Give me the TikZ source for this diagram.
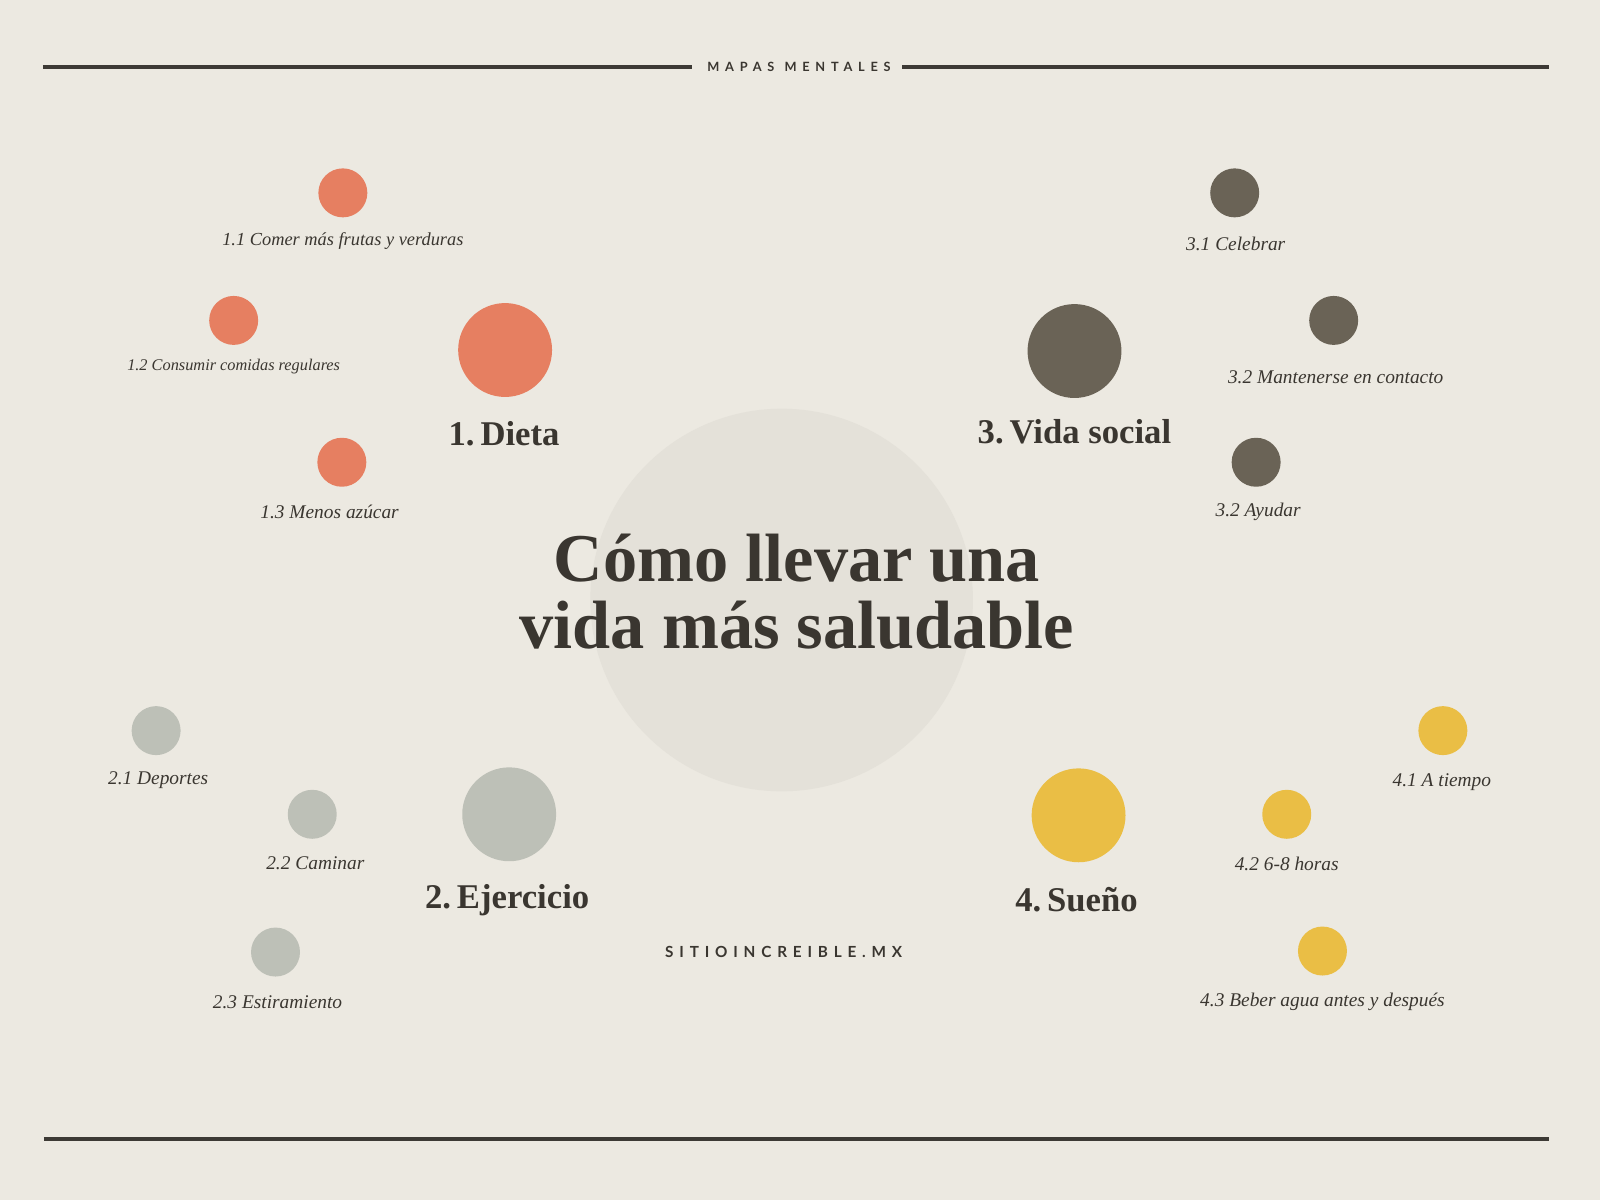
\documentclass[tikz,border=0pt]{standalone}
\usepackage{fontspec}
\setmainfont{Liberation Serif}
\newfontfamily\latofont{Lato}
\newcommand\headsp{\hspace{0.17em}}
\definecolor{bgc}{HTML}{ECE9E1}
\definecolor{hubc}{HTML}{E4E1D9}
\definecolor{inkc}{HTML}{3A3630}
\definecolor{linec}{HTML}{3D3A35}
\definecolor{orac}{HTML}{E67F61}
\definecolor{darc}{HTML}{6A6356}
\definecolor{grec}{HTML}{BDC0B7}
\definecolor{yelc}{HTML}{EABE45}
\begin{document}
\begin{tikzpicture}[x=1pt,y=-1pt,
  dot/.style={circle,inner sep=0pt,minimum size=48pt},
  bigdot/.style={circle,inner sep=0pt,minimum size=92pt},
  sub/.style={inner sep=0pt,text=inkc,font=\fontsize{19}{21}\selectfont\itshape},
  head/.style={inner sep=0pt,text=inkc,font=\fontsize{34}{36}\selectfont\bfseries},
  rule/.style={line width=4pt,draw=linec}]
\fill[bgc] (0,0) rectangle (1568,1176);
\useasboundingbox (0,0) rectangle (1568,1176);
% top and bottom rules
\coordinate (tl) at (42,66);
\coordinate (tr) at (1518,66);
\node[inner sep=0pt,text=inkc,font=\latofont\bfseries\fontsize{12.5}{15}\selectfont\addfontfeature{LetterSpace=45}] (top) at (783,66) {\mbox{MAPAS}\hspace{10pt}\mbox{MENTALES}};
\draw[rule] (tl) -- (678,66);
\draw[rule] (884,66) -- (tr);
\coordinate (bl) at (43,1116);
\coordinate (br) at (1518,1116);
\draw[rule] (bl) -- (br);
% hub
\node[circle,fill=hubc,inner sep=0pt,minimum size=375pt] (hub) at (766,588) {};
\node[inner sep=0pt,text=inkc,align=center,font=\fontsize{67}{66}\selectfont\bfseries] (title) at (781,580) {Cómo llevar una\\vida más saludable};
% 1 Dieta
\node[bigdot,fill=orac] (d1) at (495,343) {};
\node[head] (d1t) at (494,425) {1.\headsp Dieta};
\node[dot,fill=orac] (d11) at (336,189) {};
\node[sub,font=\fontsize{18}{20}\selectfont\itshape] (d11t) at (336,236) {1.1 Comer más frutas y verduras};
\node[dot,fill=orac] (d12) at (229,314) {};
\node[sub,font=\fontsize{16}{18}\selectfont\itshape] (d12t) at (229,359) {1.2 Consumir comidas regulares};
\node[dot,fill=orac] (d13) at (335,453) {};
\node[sub] (d13t) at (323,502) {1.3 Menos azúcar};
% 3 Vida social
\node[bigdot,fill=darc] (d3) at (1053,344) {};
\node[head] (d3t) at (1053,423) {3.\headsp Vida social};
\node[dot,fill=darc] (d31) at (1210,189) {};
\node[sub] (d31t) at (1211,239) {3.1 Celebrar};
\node[dot,fill=darc] (d32) at (1307,314) {};
\node[sub] (d32t) at (1309,370) {3.2 Mantenerse en contacto};
\node[dot,fill=darc] (d33) at (1231,453) {};
\node[sub] (d33t) at (1233,502) {3.2 Ayudar};
% 2 Ejercicio
\node[bigdot,fill=grec] (d2) at (499,798) {};
\node[head] (d2t) at (497,882) {2.\headsp Ejercicio};
\node[dot,fill=grec] (d21) at (153,716) {};
\node[sub] (d21t) at (155,765) {2.1 Deportes};
\node[dot,fill=grec] (d22) at (306,798) {};
\node[sub] (d22t) at (309,846) {2.2 Caminar};
\node[dot,fill=grec] (d23) at (270,933) {};
\node[sub] (d23t) at (272,982) {2.3 Estiramiento};
% 4 Sueño
\node[bigdot,fill=yelc] (d4) at (1057,799) {};
\node[head] (d4t) at (1055,882) {4.\headsp Sueño};
\node[dot,fill=yelc] (d41) at (1414,716) {};
\node[sub] (d41t) at (1413,766) {4.1 A tiempo};
\node[dot,fill=yelc] (d42) at (1261,798) {};
\node[sub] (d42t) at (1261,847) {4.2 6-8 horas};
\node[dot,fill=yelc] (d43) at (1296,932) {};
\node[sub] (d43t) at (1296,982) {4.3 Beber agua antes y después};
% footer
\node[inner sep=0pt,text=inkc,font=\latofont\bfseries\fontsize{15}{17}\selectfont\addfontfeature{LetterSpace=38}] (site) at (768,933) {SITIOINCREIBLE.MX};
\end{tikzpicture}
\end{document}
